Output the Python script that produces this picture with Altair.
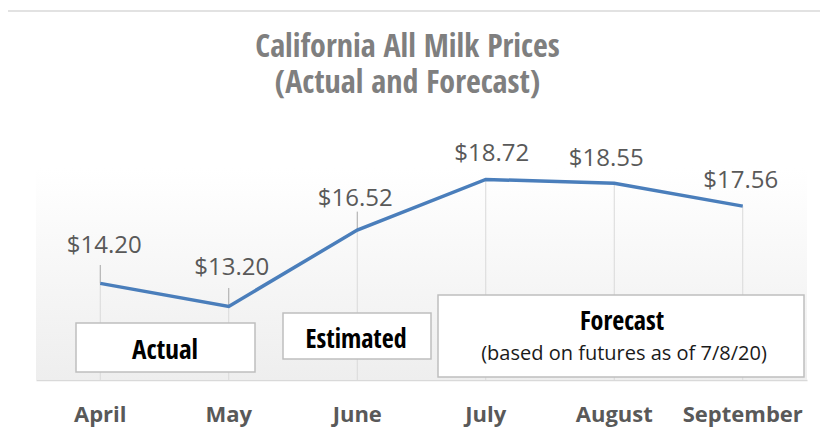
import altair as alt
import pandas as pd

months = ["April", "May", "June", "July", "August", "September"]
prices = [14.20, 13.20, 16.52, 18.72, 18.55, 17.56]
labels = ["$14.20", "$13.20", "$16.52", "$18.72", "$18.55", "$17.56"]
leader_months = ["April", "May", "June"]

title_lines = ["California All Milk Prices", "(Actual and Forecast)"]
box_titles = ["Actual", "Estimated", "Forecast"]
forecast_note = "(based on futures as of 7/8/20)"

# label placement tweaks (pixels), styling only
label_dx = [4, 3, -2, 6, -8, -2]
label_dy = [-30, -31, -24, -18, -17, -18]

W, H = 771, 230
df = pd.DataFrame({"month": months, "price": prices, "label": labels})
one = alt.Data(values=[{"k": 1}])

COND = "Open Sans Condensed, Roboto Condensed, sans-serif"
BODY = "Open Sans"

x = alt.X(
    "month:N", sort=months,
    scale=alt.Scale(paddingInner=0, paddingOuter=0),
    axis=alt.Axis(title=None, labelAngle=0, labelFont=BODY, labelFontWeight="bold",
                  labelFontSize=22, labelColor="#595959", ticks=False, tickSize=0,
                  labelPadding=41, labelBaseline="alphabetic", labelOverlap=False,
                  domainColor="#d9d9d9", domainWidth=1.5, grid=False),
)
y = alt.Y("price:Q", scale=alt.Scale(domain=[10, 20], zero=False, nice=False), axis=None)

base = alt.Chart(df)

border = alt.Chart(one).mark_rect(fillOpacity=0, stroke="#d9d9d9", strokeWidth=1.5).encode(
    x=alt.value(-31), x2=alt.value(W + 40), y=alt.value(-139), y2=alt.value(H + 80))

grad = alt.Chart(one).mark_rect(
    color=alt.LinearGradient(gradient="linear", x1=0, y1=0, x2=0, y2=1,
                             stops=[alt.GradientStop(offset=0, color="#ffffff"),
                                    alt.GradientStop(offset=0.08, color="#ffffff"),
                                    alt.GradientStop(offset=1, color="#eeeeee")])
).encode(x=alt.value(0), x2=alt.value(W), y=alt.value(0), y2=alt.value(H))

drops = base.mark_rule(color="#d9d9d9", strokeWidth=1).encode(x=x, y=y, y2=alt.value(H))

leaders = base.transform_filter(
    alt.FieldOneOfPredicate(field="month", oneOf=leader_months)
).transform_calculate(top="datum.price + 0.8").mark_rule(
    color="#a6a6a6", strokeWidth=1).encode(x=x, y=y, y2="top:Q")

line = base.mark_line(color="#4a7ebb", strokeWidth=3.5).encode(x=x, y=y)

label_layers = []
for i, m in enumerate(months):
    label_layers.append(
        base.transform_filter(alt.datum.month == m).mark_text(
            font=BODY, fontSize=24, color="#595959", baseline="alphabetic", align="center",
            dx=label_dx[i], dy=label_dy[i]
        ).encode(x=x, y=y, text="label:N")
    )

def box(x1, x2, y1, y2):
    return alt.Chart(one).mark_rect(fill="white", stroke="#bfbfbf", strokeWidth=1.5).encode(
        x=alt.value(x1), x2=alt.value(x2), y=alt.value(y1), y2=alt.value(y2))

def txt(s, xx, yy, font, size, weight, color, lh=None):
    kw = dict(font=font, fontSize=size, fontWeight=weight, color=color,
              align="center", baseline="alphabetic")
    if lh is not None:
        kw["lineHeight"] = lh
    return alt.Chart(one).mark_text(**kw).encode(
        x=alt.value(xx), y=alt.value(yy), text=alt.value(s))

boxes = [
    box(40, 219, 173, 222), box(247, 395, 163, 209), box(402, 768, 145, 227),
    txt(box_titles[0], 129, 209, COND, 27, "bold", "black"),
    txt(box_titles[1], 320, 198, COND, 26, "bold", "black"),
    txt(box_titles[2], 586, 180, COND, 26, "bold", "black"),
    txt(forecast_note, 588, 210, BODY, 20, "normal", "#1a1a1a"),
]

title = txt(title_lines, 371.5, -93, COND, 32, "bold", "#7f7f7f", lh=36)

chart = alt.layer(border, grad, drops, leaders, line, *label_layers, *boxes, title).properties(
    width=W, height=H,
    padding={"left": 28, "top": 142, "right": 13, "bottom": 48},
    autosize=alt.AutoSizeParams(type="none"),
).configure_view(stroke=None)

chart.save("out.html", embed_options={"renderer": "svg", "actions": False})
